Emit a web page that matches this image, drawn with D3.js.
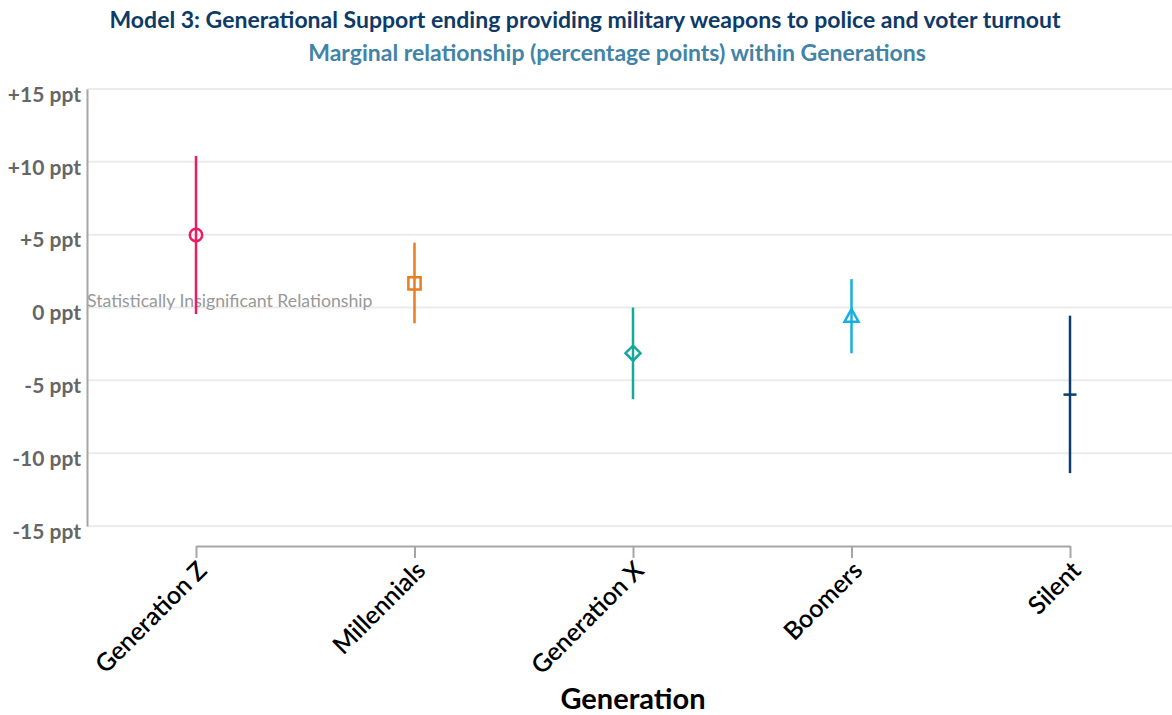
<!DOCTYPE html>
<html>
  <head>
    <meta charset="utf-8">
    <title>Model 3: Generational Support</title>
    <script src="https://d3js.org/d3.v7.min.js"></script>
    <style>
      body { margin: 0; background: #fff; }
      text { font-family: Lato, "Open Sans", sans-serif; }
    </style>
  </head>
  <body>
    <div id="chart"></div>
    <script>
      // Data (percentage points)
      const generations = ["Generation Z", "Millennials", "Generation X", "Boomers", "Silent"];
      const estimates = [4.98, 1.66, -3.14, -0.63, -5.98];
      const lower = [-0.45, -1.08, -6.3, -3.14, -11.37];
      const upper = [10.4, 4.45, 0.0, 1.95, -0.56];
      const yTicks = [15, 10, 5, 0, -5, -10, -15];
      const colors = ["#ec1b63", "#e67e22", "#14a99c", "#17b0de", "#0c3d6c"];
      const shapes = ["circle", "square", "diamond", "triangle", "dash"];

      const width = 1172, height = 715;

      const svg = d3.select("#chart")
        .append("svg")
        .attr("width", width)
        .attr("height", height);

      // Scales
      const x = d3.scalePoint()
        .domain(generations)
        .range([196, 1070]);
      const y = d3.scaleLinear()
        .domain([-15, 15])
        .range([526, 89]);

      // Titles
      svg.append("text")
        .attr("x", 585).attr("y", 28)
        .attr("text-anchor", "middle")
        .attr("font-size", 23).attr("font-weight", 700)
        .attr("fill", "#0d3a66")
        .text("Model 3: Generational Support ending providing military weapons to police and voter turnout");
      svg.append("text")
        .attr("x", 617).attr("y", 61)
        .attr("text-anchor", "middle")
        .attr("font-size", 23).attr("font-weight", 700)
        .attr("fill", "#4283a8")
        .text("Marginal relationship (percentage points) within Generations");

      // Gridlines
      svg.append("g")
        .selectAll("line")
        .data(yTicks)
        .join("line")
        .attr("x1", 87).attr("x2", width)
        .attr("y1", d => y(d)).attr("y2", d => y(d))
        .attr("stroke", "#ebebeb").attr("stroke-width", 2);

      // Y axis
      const yAxis = d3.axisLeft(y)
        .tickValues(yTicks)
        .tickSize(0)
        .tickPadding(6)
        .tickFormat(d => (d > 0 ? "+" : "") + d + " ppt");
      const gy = svg.append("g")
        .attr("transform", "translate(87,0)")
        .call(yAxis);
      gy.select(".domain").attr("stroke", "#a6a6a6").attr("stroke-width", 2);
      gy.selectAll(".tick text")
        .attr("font-family", "Lato, sans-serif")
        .attr("font-size", 21).attr("font-weight", 700)
        .attr("fill", "#666")
        .attr("dy", "0.58em");

      // X axis
      const xAxis = d3.axisBottom(x)
        .tickSize(12)
        .tickSizeOuter(0);
      const gx = svg.append("g")
        .attr("transform", "translate(0,546)")
        .call(xAxis);
      gx.select(".domain").attr("stroke", "#a6a6a6").attr("stroke-width", 2);
      gx.selectAll(".tick line").attr("stroke", "#a6a6a6").attr("stroke-width", 2);
      gx.selectAll(".tick text")
        .attr("font-family", "Lato, sans-serif")
        .attr("font-size", 25).attr("font-weight", 600)
        .attr("fill", "#000")
        .attr("text-anchor", "end")
        .attr("y", 0).attr("dy", 0)
        .attr("transform", "translate(12,26) rotate(-45)");

      svg.append("text")
        .attr("x", 633).attr("y", 709)
        .attr("text-anchor", "middle")
        .attr("font-size", 29).attr("font-weight", 700)
        .attr("fill", "#000")
        .text("Generation");

      // Annotation
      svg.append("text")
        .attr("x", 87).attr("y", 307)
        .attr("font-size", 17.7)
        .attr("fill", "#999")
        .text("Statistically Insignificant Relationship");

      // Error bars
      const rows = generations.map((g, i) => ({
        g, est: estimates[i], lo: lower[i], hi: upper[i], color: colors[i], shape: shapes[i]
      }));

      svg.append("g")
        .selectAll("line")
        .data(rows)
        .join("line")
        .attr("x1", d => x(d.g)).attr("x2", d => x(d.g))
        .attr("y1", d => y(d.lo)).attr("y2", d => y(d.hi))
        .attr("stroke", d => d.color).attr("stroke-width", 2.5);

      // Markers
      const symbolPath = {
        circle: d3.symbol(d3.symbolCircle, 120)(),
        square: d3.symbol(d3.symbolSquare, 150)(),
        diamond: "M0,-7.5L7.5,0L0,7.5L-7.5,0Z",
        triangle: "M0,-7.5L7,5L-7,5Z",
        dash: "M-6.5,0L6.5,0"
      };
      svg.append("g")
        .selectAll("path")
        .data(rows)
        .join("path")
        .attr("transform", d => `translate(${x(d.g)},${y(d.est)})`)
        .attr("d", d => symbolPath[d.shape])
        .attr("fill", "none")
        .attr("stroke", d => d.color)
        .attr("stroke-width", 2.5);
    </script>
  </body>
</html>
